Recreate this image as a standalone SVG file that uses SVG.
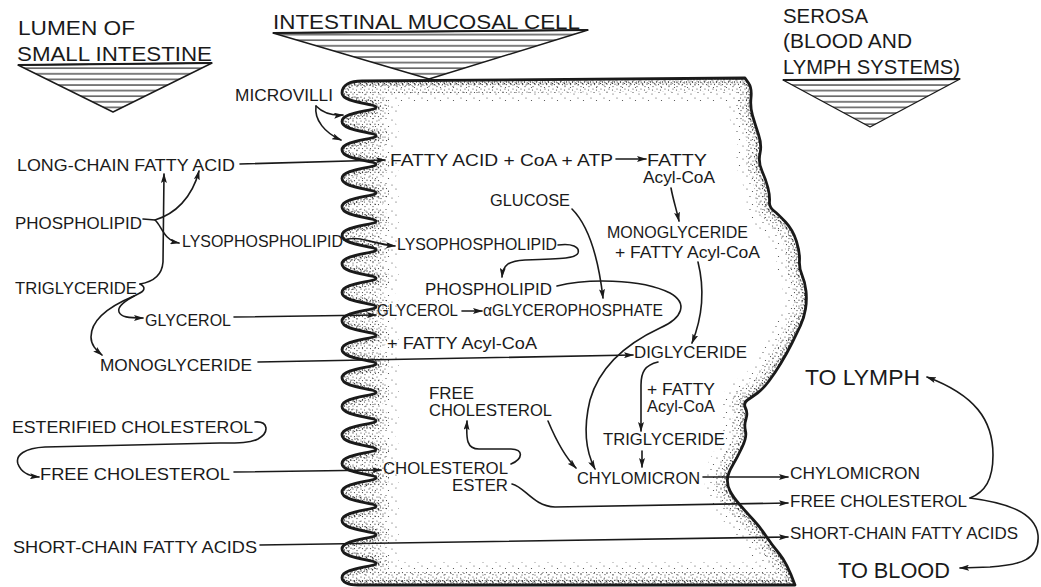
<svg xmlns="http://www.w3.org/2000/svg" width="1041" height="587" viewBox="0 0 1041 587">
<style>
text{font-family:"Liberation Sans",Arial,sans-serif;fill:#1a1a1a;}
.t{font-size:17px;}
.h{font-size:21px;}
.h2{font-size:20px;}
.b{font-size:22px;}
.c{fill:none;stroke:#1a1a1a;stroke-width:1.6;stroke-linecap:round;stroke-linejoin:round;}
.a{marker-end:url(#ah);}
.tri{fill:url(#hatch);stroke:#1a1a1a;stroke-width:1.4;stroke-linejoin:round;}
</style>
<defs>
<marker id="ah" viewBox="0 0 10 6" refX="9" refY="3" markerWidth="10" markerHeight="6" markerUnits="userSpaceOnUse" orient="auto">
<path d="M0,0 L10,3 L0,6 L2,3 z" fill="#1a1a1a"/>
</marker>
<pattern id="hatch" width="10" height="5.6" patternUnits="userSpaceOnUse">
<rect width="10" height="5.6" fill="#fff"/>
<line x1="0" y1="1" x2="10" y2="1" stroke="#2a2a2a" stroke-width="1.2"/>
</pattern>
<pattern id="vdense" width="6" height="6" patternUnits="userSpaceOnUse">
<g fill="#333">
<circle cx="1" cy="1" r="0.7"/><circle cx="4" cy="1.8" r="0.7"/><circle cx="2.5" cy="4" r="0.7"/>
<circle cx="5.2" cy="4.8" r="0.65"/><circle cx="0.6" cy="5.4" r="0.6"/>
</g>
</pattern>
<pattern id="dense" width="8" height="8" patternUnits="userSpaceOnUse">
<g fill="#3a3a3a">
<circle cx="1" cy="1" r="0.6"/><circle cx="4.5" cy="2" r="0.6"/><circle cx="7" cy="4.2" r="0.6"/>
<circle cx="2.5" cy="4.6" r="0.6"/><circle cx="5" cy="6.6" r="0.6"/>
</g>
</pattern>
<pattern id="light" width="13" height="13" patternUnits="userSpaceOnUse">
<g fill="#444">
<circle cx="2" cy="3" r="0.6"/><circle cx="9" cy="1.5" r="0.6"/><circle cx="6" cy="7" r="0.6"/>
<circle cx="11.5" cy="9.5" r="0.6"/>
</g>
</pattern>
<path id="cell" d="M745,78 L362,81 C350,81 342,85 342,93
C342,103 376,103.25 376,107.25 C376,111.25 342,111.5 342,121.5
C342,131.5 376,131.75 376,135.75 C376,139.75 342,140 342,150
C342,160 376,160.25 376,164.25 C376,168.25 342,168.5 342,178.5
C342,188.5 376,188.75 376,192.75 C376,196.75 342,197 342,207
C342,217 376,217.25 376,221.25 C376,225.25 342,225.5 342,235.5
C342,245.5 376,245.75 376,249.75 C376,253.75 342,254 342,264
C342,274 376,274.25 376,278.25 C376,282.25 342,282.5 342,292.5
C342,302.5 376,302.75 376,306.75 C376,310.75 342,311 342,321
C342,331 376,331.25 376,335.25 C376,339.25 342,339.5 342,349.5
C342,359.5 376,359.75 376,363.75 C376,367.75 342,368 342,378
C342,388 376,388.25 376,392.25 C376,396.25 342,396.5 342,406.5
C342,416.5 376,416.75 376,420.75 C376,424.75 342,425 342,435
C342,445 376,445.25 376,449.25 C376,453.25 342,453.5 342,463.5
C342,473.5 376,473.75 376,477.75 C376,481.75 342,482 342,492
C342,502 376,502.25 376,506.25 C376,510.25 342,510.5 342,520.5
C342,530.5 376,530.75 376,534.75 C376,538.75 342,539 342,549
C342,559 376,559.25 376,563.25 C376,567.25 342,567.5 342,577.5
C342,582 348,585 358,585 L795,585
Q787,563 779.5,554 Q772,545 766,536 Q760,527 753.5,520 Q747,513 740,505 Q733,497 730,491 Q727,485 727.5,479 Q728,473 732.5,465.5 Q737,458 742,447.5 Q747,437 745.5,431 Q744,425 746,419 Q748,413 745.5,408 Q743,403 747.5,400 Q752,397 757.5,393 Q763,389 769,381 Q775,373 781,363 Q787,353 792,343 Q797,333 800.5,325.5 Q804,318 805.5,309 Q807,300 806,291 Q805,282 802,275 Q799,268 799.5,260.5 Q800,253 796.5,241.5 Q793,230 785.5,222 Q778,214 773.5,210.5 Q769,207 769.5,201.5 Q770,196 768,188 Q766,180 762,171 Q758,162 760,153.5 Q762,145 758.5,134.5 Q755,124 752.5,115.5 Q750,107 751,97.5 Q752,88 748.5,83 L745,78 Z"/>
<clipPath id="cellclip"><use href="#cell"/></clipPath>
</defs>
<rect width="1041" height="587" fill="#fff"/>

<g id="mucosal-cell">
<use href="#cell" fill="#fff"/>
<g clip-path="url(#cellclip)">
<use href="#cell" fill="none" stroke="url(#light)" stroke-width="46"/>
<use href="#cell" fill="none" stroke="url(#dense)" stroke-width="26"/>
<use href="#cell" fill="none" stroke="url(#vdense)" stroke-width="10"/>
</g>
<use href="#cell" fill="none" stroke="#1a1a1a" stroke-width="2.8" stroke-linejoin="round"/>
</g>

<g id="header-lumen">
<polygon class="tri" points="18,65 212,63 113,112"/>
<line x1="18" y1="65" x2="212" y2="63" stroke="#1a1a1a" stroke-width="2"/>
<text x="18" y="35" class="h" textLength="117" lengthAdjust="spacingAndGlyphs">LUMEN OF</text>
<text x="17" y="61" class="h" textLength="195" lengthAdjust="spacingAndGlyphs">SMALL INTESTINE</text>
</g>
<g id="header-cell">
<polygon class="tri" points="273,33 588,30 429,79"/>
<line x1="273" y1="33" x2="588" y2="30" stroke="#1a1a1a" stroke-width="2"/>
<text x="273" y="29" class="h" textLength="307" lengthAdjust="spacingAndGlyphs">INTESTINAL MUCOSAL CELL</text>
</g>
<g id="header-serosa">
<polygon class="tri" points="783,80 960,79 870,127"/>
<line x1="783" y1="80" x2="960" y2="79" stroke="#1a1a1a" stroke-width="2"/>
<text x="783" y="23" class="h2" textLength="85" lengthAdjust="spacingAndGlyphs">SEROSA</text>
<text x="783" y="48" class="h2" textLength="129" lengthAdjust="spacingAndGlyphs">(BLOOD AND</text>
<text x="783" y="74" class="h2" textLength="177" lengthAdjust="spacingAndGlyphs">LYMPH SYSTEMS)</text>
</g>

<g id="connectors">
<path class="c a" d="M316,106 C322,112 330,116 343,115"/>
<path class="c a" d="M316,106 C314,120 325,133 341,140"/>
<path class="c a" d="M240,164 L385,160"/>
<path class="c a" d="M616,159 L646,159"/>
<path class="c a" d="M671,188 C673,199 676,208 679,221"/>
<path class="c a" d="M572,209 C588,225 598,255 603,298"/>
<path class="c a" d="M698,262 C705,290 702,318 692,343"/>
<path class="c a" d="M258,362 L633,355"/>
<path class="c a" d="M658,362 C645,365 641,372 641,385 L641,431"/>
<path class="c a" d="M642,451 L642,467"/>
<path class="c a" d="M557,286 C585,279 640,278 670,293 C688,303 683,318 660,328 C630,342 600,365 590,400 C584,425 585,450 595,469"/>
<path class="c a" d="M548,421 C556,440 565,457 576,468"/>
<path class="c a" d="M703,477 L788,477"/>
<path class="c a" d="M512,484 C525,487 533,506 555,507 L788,503"/>
<path class="c a" d="M260,545 L788,537"/>
<path class="c a" d="M234,317 L376,315"/>
<path class="c a" d="M462,311 L482,311"/>
<path class="c a" d="M234,472 L381,470"/>
<path class="c a" d="M511,464 C523,459 524,449 511,449 L479,449 C467,449 466,440 467,421"/>
<path class="c a" d="M344,240 C360,235 372,244 395,246"/>
<path class="c a" d="M558,245 C572,243 580,247 578,253 C576,258 565,259 525,260 C508,261 503,265 502,277"/>
<path class="c a" d="M143,219 L155,220 C175,214 192,198 199,171"/>
<path class="c a" d="M155,220 C162,226 163,240 179,243"/>
<path class="c a" d="M140,284 C152,282 162,276 163,262 L164,174"/>
<path class="c a" d="M140,284 C146,287 145,291 138,294 C126,300 117,307 119,312 C121,317 128,318 143,318"/>
<path class="c a" d="M134,296 C110,306 91,320 91,337 C91,345 96,350 102,355"/>
<path class="c a" d="M255,422 C268,421 270,432 258,439 C250,443 240,443 220,443 L45,447 C25,448 15,455 18,464 C21,472 28,476 39,477"/>
<path class="c a" d="M970,498 C985,492 993,480 993,455 C993,420 975,395 927,377"/>
<path class="c a" d="M970,498 C1000,502 1035,510 1038,535 C1040,560 1020,565 990,567 L960,568"/>
</g>

<g id="microvilli"><text x="235" y="101" class="t" textLength="98" lengthAdjust="spacingAndGlyphs">MICROVILLI</text></g>
<g id="lumen-long-chain-fatty-acid"><text x="17" y="171" class="t" textLength="218" lengthAdjust="spacingAndGlyphs">LONG-CHAIN FATTY ACID</text></g>
<g id="lumen-phospholipid"><text x="15" y="229" class="t" textLength="127" lengthAdjust="spacingAndGlyphs">PHOSPHOLIPID</text></g>
<g id="lumen-lysophospholipid"><text x="182" y="247" class="t" textLength="161" lengthAdjust="spacingAndGlyphs">LYSOPHOSPHOLIPID</text></g>
<g id="lumen-triglyceride"><text x="15" y="294" class="t" textLength="122" lengthAdjust="spacingAndGlyphs">TRIGLYCERIDE</text></g>
<g id="lumen-glycerol"><text x="145" y="326" class="t" textLength="86" lengthAdjust="spacingAndGlyphs">GLYCEROL</text></g>
<g id="lumen-monoglyceride"><text x="100" y="371" class="t" textLength="152" lengthAdjust="spacingAndGlyphs">MONOGLYCERIDE</text></g>
<g id="lumen-esterified-cholesterol"><text x="12" y="433" class="t" textLength="241" lengthAdjust="spacingAndGlyphs">ESTERIFIED CHOLESTEROL</text></g>
<g id="lumen-free-cholesterol"><text x="40" y="480" class="t" textLength="190" lengthAdjust="spacingAndGlyphs">FREE CHOLESTEROL</text></g>
<g id="lumen-short-chain"><text x="13" y="553" class="t" textLength="244" lengthAdjust="spacingAndGlyphs">SHORT-CHAIN FATTY ACIDS</text></g>

<g id="cell-fatty-acid-coa-atp"><text x="390" y="166" class="t" textLength="223" lengthAdjust="spacingAndGlyphs">FATTY ACID + CoA + ATP</text></g>
<g id="cell-fatty-acyl-coa"><text x="647" y="166" class="t" textLength="60" lengthAdjust="spacingAndGlyphs">FATTY</text><text x="643" y="183" class="t" textLength="72" lengthAdjust="spacingAndGlyphs">Acyl-CoA</text></g>
<g id="cell-glucose"><text x="490" y="206" class="t" textLength="80" lengthAdjust="spacingAndGlyphs">GLUCOSE</text></g>
<g id="cell-monoglyceride"><text x="607" y="238" class="t" textLength="141" lengthAdjust="spacingAndGlyphs">MONOGLYCERIDE</text><text x="615" y="258" class="t" textLength="145" lengthAdjust="spacingAndGlyphs">+ FATTY Acyl-CoA</text></g>
<g id="cell-lysophospholipid"><text x="397" y="250" class="t" textLength="160" lengthAdjust="spacingAndGlyphs">LYSOPHOSPHOLIPID</text></g>
<g id="cell-phospholipid"><text x="425" y="295" class="t" textLength="127" lengthAdjust="spacingAndGlyphs">PHOSPHOLIPID</text></g>
<g id="cell-glycerol"><text x="377" y="316" class="t" textLength="81" lengthAdjust="spacingAndGlyphs">GLYCEROL</text></g>
<g id="cell-glycerophosphate"><text x="483" y="316" class="t" textLength="180" lengthAdjust="spacingAndGlyphs">αGLYCEROPHOSPHATE</text></g>
<g id="cell-plus-fatty-acyl-coa"><text x="387" y="349" class="t" textLength="150" lengthAdjust="spacingAndGlyphs">+ FATTY Acyl-CoA</text></g>
<g id="cell-diglyceride"><text x="634" y="358" class="t" textLength="113" lengthAdjust="spacingAndGlyphs">DIGLYCERIDE</text></g>
<g id="cell-plus-fatty-acyl-coa-2"><text x="647" y="395" class="t" textLength="68" lengthAdjust="spacingAndGlyphs">+ FATTY</text><text x="647" y="412" class="t" textLength="68" lengthAdjust="spacingAndGlyphs">Acyl-CoA</text></g>
<g id="cell-triglyceride"><text x="603" y="445" class="t" textLength="122" lengthAdjust="spacingAndGlyphs">TRIGLYCERIDE</text></g>
<g id="cell-free-cholesterol"><text x="429" y="399" class="t" textLength="45" lengthAdjust="spacingAndGlyphs">FREE</text><text x="429" y="416" class="t" textLength="123" lengthAdjust="spacingAndGlyphs">CHOLESTEROL</text></g>
<g id="cell-cholesterol-ester"><text x="383" y="474" class="t" textLength="125" lengthAdjust="spacingAndGlyphs">CHOLESTEROL</text><text x="452" y="491" class="t" textLength="56" lengthAdjust="spacingAndGlyphs">ESTER</text></g>
<g id="cell-chylomicron"><text x="577" y="484" class="t" textLength="123" lengthAdjust="spacingAndGlyphs">CHYLOMICRON</text></g>

<g id="serosa-chylomicron"><text x="790" y="479" class="t" textLength="130" lengthAdjust="spacingAndGlyphs">CHYLOMICRON</text></g>
<g id="serosa-free-cholesterol"><text x="790" y="507" class="t" textLength="177" lengthAdjust="spacingAndGlyphs">FREE CHOLESTEROL</text></g>
<g id="serosa-short-chain"><text x="790" y="539" class="t" textLength="228" lengthAdjust="spacingAndGlyphs">SHORT-CHAIN FATTY ACIDS</text></g>
<g id="to-lymph"><text x="805" y="385" class="b" textLength="115" lengthAdjust="spacingAndGlyphs">TO LYMPH</text></g>
<g id="to-blood"><text x="838" y="578" class="b" textLength="112" lengthAdjust="spacingAndGlyphs">TO BLOOD</text></g>
</svg>
